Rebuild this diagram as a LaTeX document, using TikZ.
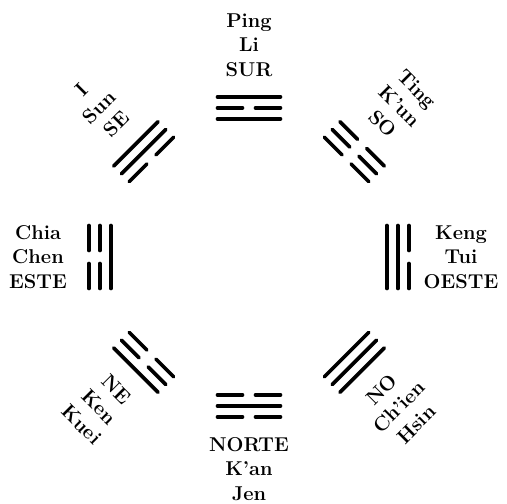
\documentclass[tikz,border=0pt]{standalone}
\usepackage{amsmath}
\usepackage{tikz}
\tikzset{  yao/.style={line width=3.6pt,line cap=round},
  gua/.style={font={\fontsize{20}{24.5}\selectfont\bfseries},align=center,inner sep=0pt} }
% one line of a trigram: radius, 1 = whole, 0 = broken
\newcommand{\yao}[2]{\ifnum#2=1 \draw[yao] (-31.5,#1) -- (31.5,#1);
  \else \draw[yao] (-31.5,#1) -- (-6.5,#1) (6.5,#1) -- (31.5,#1); \fi}
% trigram: angle, outer, middle, inner
\newcommand{\trigram}[4]{\begin{scope}[rotate=#1-90]
  \yao{160}{#2} \yao{149}{#3} \yao{138}{#4} \end{scope}}

\begin{document}
\begin{tikzpicture}[x=1pt,y=1pt]
   \useasboundingbox (-249,-247) rectangle (258,257);
   \trigram{90}{1}{0}{1}
   \trigram{45}{0}{0}{0}
   \trigram{0}{0}{1}{1}
   \trigram{-45}{1}{1}{1}
   \trigram{-90}{0}{1}{0}
   \trigram{-135}{1}{0}{0}
   \trigram{180}{0}{0}{1}
   \trigram{135}{1}{1}{0}
   \node[gua] (sur) at (90:212) {Ping\\Li\\SUR};
   \node[gua,rotate=-45] (so) at (45:213) {Ting\\K'un\\SO};
   \node[gua] (oeste) at (0:212) {Keng\\Tui\\OESTE};
   \node[gua,rotate=45] (no) at (-45:212) {NO\\Ch'ien\\Hsin};
   \node[gua] (norte) at (-90:212) {NORTE\\K'an\\Jen};
   \node[gua,rotate=-45] (ne) at (-135:212) {NE\\Ken\\Kuei};
   \node[gua] (este) at (180:211) {Chia\\Chen\\ESTE};
   \node[gua,rotate=45] (se) at (135:212) {I\\Sun\\SE};
  \end{tikzpicture}
\end{document}
